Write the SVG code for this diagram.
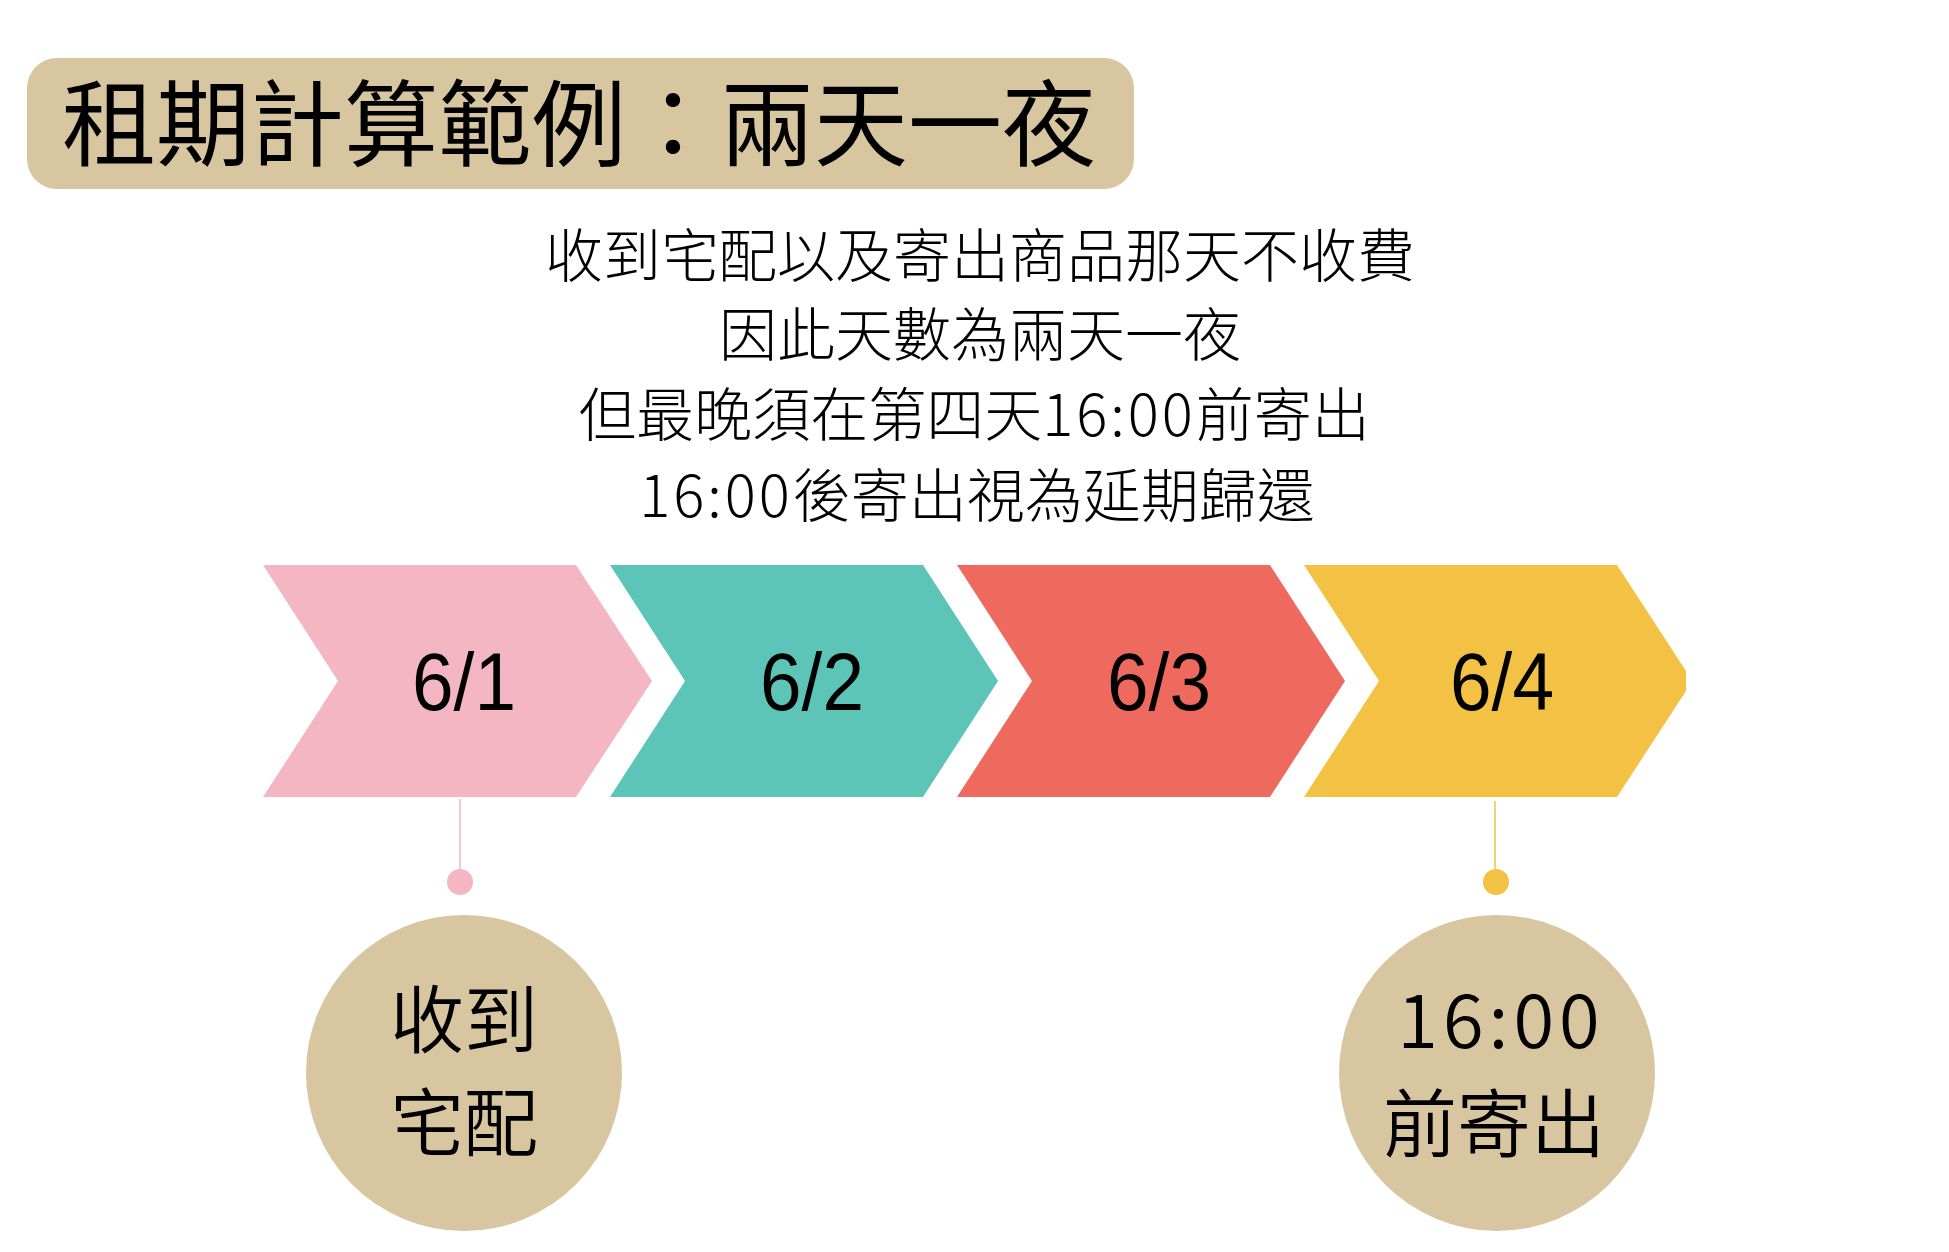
<svg xmlns="http://www.w3.org/2000/svg" width="1949" height="1252" viewBox="0 0 1949 1252">
<style>
.cjk{font-family:"Noto Sans CJK TC","Noto Sans CJK SC",sans-serif;fill:#000;}
.date{font-family:"Liberation Sans",Arial,sans-serif;font-size:82px;fill:#000;text-anchor:middle;}
.sub{font-size:58px;text-anchor:middle;font-weight:300;}
.circ{font-size:74px;text-anchor:middle;font-weight:350;}
.num{letter-spacing:3px;}
.tan{fill:#D7C6A0;}
</style>
<rect width="1949" height="1252" fill="#FFFFFF"/>
<g id="title">
<rect class="tan" x="27" y="58" width="1107" height="131" rx="30" ry="30"/>
<text class="cjk" x="62" y="159" font-size="94">租期計算範例：兩天一夜</text>
</g>
<g id="description">
<text class="cjk sub" x="980" y="277">收到宅配以及寄出商品那天不收費</text>
<text class="cjk sub" x="980" y="356">因此天數為兩天一夜</text>
<text class="cjk sub" x="974" y="436">但最晚須在第四天<tspan class="num">16:00</tspan>前寄出</text>
<text class="cjk sub" x="977" y="517"><tspan class="num">16:00</tspan>後寄出視為延期歸還</text>
</g>
<g id="day1">
<polygon fill="#F4B6C2" points="263,565 576,565 652,681 576,797 263,797 338,681"/>
<text class="date" x="464" y="710" textLength="104" lengthAdjust="spacingAndGlyphs">6/1</text>
</g>
<g id="day2">
<polygon fill="#5DC5B8" points="610,565 923,565 998,681 923,797 610,797 685,681"/>
<text class="date" x="812" y="710" textLength="104" lengthAdjust="spacingAndGlyphs">6/2</text>
</g>
<g id="day3">
<polygon fill="#EE6A5E" points="957,565 1270,565 1345,681 1270,797 957,797 1032,681"/>
<text class="date" x="1159" y="710" textLength="104" lengthAdjust="spacingAndGlyphs">6/3</text>
</g>
<g id="day4">
<polygon fill="#F3C244" points="1304,565 1617,565 1686,671 1686,691 1617,797 1304,797 1379,681"/>
<text class="date" x="1502" y="710" textLength="104" lengthAdjust="spacingAndGlyphs">6/4</text>
</g>
<g id="connectors">
<line x1="460" y1="799" x2="460" y2="875" stroke="#F4B6C2" stroke-width="1.5"/>
<circle cx="460" cy="882" r="13" fill="#F4B6C2"/>
<line x1="1495" y1="801" x2="1495" y2="875" stroke="#F3C244" stroke-width="1.5"/>
<circle cx="1496" cy="882" r="13" fill="#F3C244"/>
</g>
<g id="received">
<circle class="tan" cx="464" cy="1073" r="158"/>
<text class="cjk circ" x="464" y="1047">收到</text>
<text class="cjk circ" x="464" y="1150">宅配</text>
</g>
<g id="shipby">
<circle class="tan" cx="1497" cy="1073" r="158"/>
<text class="cjk circ" x="1501" y="1048" letter-spacing="5">16:00</text>
<text class="cjk circ" x="1494" y="1151">前寄出</text>
</g>
</svg>
